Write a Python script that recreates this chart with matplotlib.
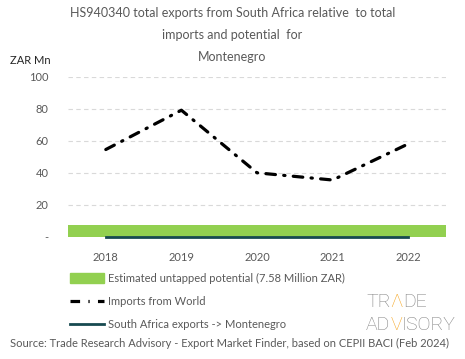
import numpy as np
import matplotlib
matplotlib.use("Agg")
import matplotlib.pyplot as plt
from matplotlib.patches import Patch
from matplotlib.lines import Line2D

years = ["2018", "2019", "2020", "2021", "2022"]
imports_world = [54.5, 79, 40, 35.5, 58]
sa_exports = [0, 0, 0, 0, 0]
untapped_potential = 7.58
yticks = [0, 20, 40, 60, 80, 100]
ytick_labels = ["-", "20", "40", "60", "80", "100"]

grey = "#595959"
plt.rcParams["font.family"] = ["Lato", "DejaVu Sans"]

fig = plt.figure(figsize=(4.65, 3.59), dpi=100)
ax = fig.add_axes([68 / 465, 1 - 237 / 359, 378 / 465, 160.5 / 359])

x = np.arange(len(years))
# untapped potential band across the whole category range
ax.bar(x, [untapped_potential] * len(years), width=1.0, color="#92d050", zorder=2)
ax.plot(x, imports_world, color="black", lw=2.3,
        linestyle=(0, (3, 2.6, 0.4, 2.6)), dash_capstyle="round", zorder=3)
ax.plot(x, sa_exports, color="#174a50", lw=2.0, zorder=4, clip_on=False)

ax.set_xlim(-0.5, 4.5)
ax.set_ylim(0, 100)
ax.set_yticks(yticks)
ax.set_yticklabels(ytick_labels)
ax.set_xticks(x)
ax.set_xticklabels(years)
ax.tick_params(length=0, colors=grey, labelsize=8)
ax.tick_params(axis="x", pad=11)
ax.tick_params(axis="y", pad=14)
for s in ax.spines.values():
    s.set_visible(False)
ax.yaxis.grid(True, color="#d9d9d9", linestyle=(0, (4, 3)), lw=0.8)
ax.set_axisbelow(True)

fig.text(0.5, 1 - 13 / 359, "HS940340 total exports from South Africa relative  to total",
         ha="center", va="center", fontsize=9, color=grey)
fig.text(0.5, 1 - 35 / 359, "imports and potential  for",
         ha="center", va="center", fontsize=9, color=grey)
fig.text(0.5, 1 - 57 / 359, "Montenegro",
         ha="center", va="center", fontsize=9, color=grey)
fig.text(10 / 465, 1 - 61 / 359, "ZAR Mn", ha="left", va="center", fontsize=8, color="#262626")

handles = [Patch(color="#92d050"),
           Line2D([], [], color="black", lw=2.3, linestyle=(0, (3, 2.6, 0.4, 2.6))),
           Line2D([], [], color="#174a50", lw=2.0)]
labels = ["Estimated untapped potential (7.58 Million ZAR)",
          "Imports from World",
          "South Africa exports -> Montenegro"]
fig.legend(handles, labels, loc="upper left", bbox_to_anchor=(60 / 465, 1 - 263 / 359),
           frameon=False, fontsize=8, labelcolor=grey, handlelength=3.1,
           handleheight=1.0, labelspacing=1.1, handletextpad=0.3)

# logo, pieces placed one after another
fig.canvas.draw()
r = fig.canvas.get_renderer()
logo_kw = dict(fontsize=14, fontfamily="Roboto", fontweight="light", va="baseline")
for row, y in [([("TR", "#7f7f7f"), ("\u039b", "#f5a623"), ("DE", "#7f7f7f")], 1 - 307 / 359),
               ([("AD", "#7f7f7f"), ("V", "#f5a623"), ("ISORY", "#7f7f7f")], 1 - 330 / 359)]:
    xpos = 366 / 465
    for txt, col in row:
        t = fig.text(xpos, y, txt, color=col, **logo_kw)
        w = t.get_window_extent(renderer=r).width
        xpos += w / 465

fig.text(10 / 465, 1 - 343 / 359,
         "Source: Trade Research Advisory - Export Market Finder, based on CEPII BACI (Feb 2024)",
         ha="left", va="center", fontsize=8, color=grey)

fig.savefig("out.png", dpi=100)
